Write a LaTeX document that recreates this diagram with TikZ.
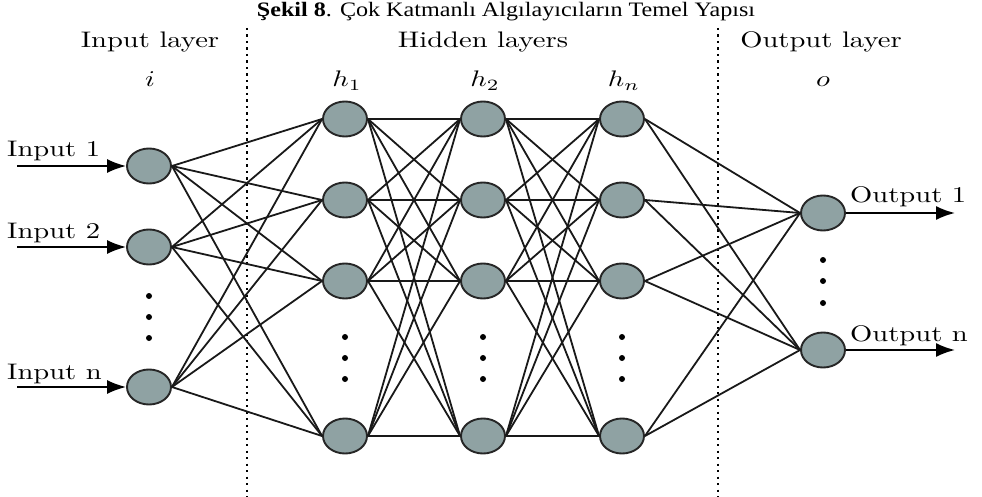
\documentclass[tikz,border=0pt]{standalone}
\usepackage{graphicx}
\usepackage{fontspec}
\newfontfamily\timesf{Liberation Serif}
\usetikzlibrary{shapes.geometric,arrows.meta}
\definecolor{nfill}{RGB}{143,162,163}
\newcommand\wide[1]{\scalebox{2.86}[2.25]{\fontsize{10}{12}\selectfont #1}}
\tikzset{
 neuron/.style={ellipse, draw=black!85, line width=1.9pt, fill=nfill, minimum width=44pt, minimum height=35pt, inner sep=0pt},
 conn/.style={line width=1.8pt, black!90},
 lbl/.style={inner sep=0pt},
 sepline/.style={line width=1.6pt, dash pattern=on 2.2pt off 4.3pt},
 arr/.style={line width=1.9pt, -{Latex[length=19pt,width=14pt]}},
 bigdot/.style={circle, fill=black, inner sep=0pt, minimum size=6pt}
}
\begin{document}
\begin{tikzpicture}[x=1pt,y=-1pt]
\useasboundingbox (0,0) rectangle (982,497);
\fill[white] (0,0) rectangle (982,497);
% title
\node[anchor=base, inner sep=0pt] (title) at (506,17) {\resizebox{498pt}{\height}{\timesf\fontsize{20.5}{24}\selectfont\textbf{Şekil 8}. Çok Katmanlı Algılayıcıların Temel Yapısı}};
% layer headings
\node[lbl, anchor=base] (tin) at (150,48) {\wide{Input layer}};
\node[lbl, anchor=base] (thid) at (483,48) {\wide{Hidden layers}};
\node[lbl, anchor=base] (tout) at (821,48) {\wide{Output layer}};
\node[lbl, anchor=base] (li) at (150,87) {\wide{$i$}};
\node[lbl, anchor=base] (lh1) at (347,87) {\wide{$h_1$}};
\node[lbl, anchor=base] (lh2) at (485,87) {\wide{$h_2$}};
\node[lbl, anchor=base] (lhn) at (624,87) {\wide{$h_n$}};
\node[lbl, anchor=base] (lo) at (823,87) {\wide{$o$}};
% separators
\coordinate (s1t) at (247,28); \coordinate (s1b) at (247,497);
\coordinate (s2t) at (718,28); \coordinate (s2b) at (718,497);
\draw[sepline] (s1t) -- (s1b);
\draw[sepline] (s2t) -- (s2b);
% neurons
\node[neuron] (i1) at (149,166) {};
\node[neuron] (i2) at (149,247) {};
\node[neuron] (i3) at (149,387) {};
\foreach \n/\x in {a/345,b/483,c/622}{
  \node[neuron] (\n1) at (\x,119) {};
  \node[neuron] (\n2) at (\x,200) {};
  \node[neuron] (\n3) at (\x,281) {};
  \node[neuron] (\n4) at (\x,436) {};
  \node[bigdot] (\n d1) at (\x,337) {};
  \node[bigdot] (\n d2) at (\x,358) {};
  \node[bigdot] (\n d3) at (\x,379) {};
}
\node[neuron] (o1) at (823,213) {};
\node[neuron] (o2) at (823,350) {};
\node[bigdot] (id1) at (149,296) {};
\node[bigdot] (id2) at (149,317) {};
\node[bigdot] (id3) at (149,338) {};
\node[bigdot] (od1) at (823,260) {};
\node[bigdot] (od2) at (823,281) {};
\node[bigdot] (od3) at (823,303) {};
% connections
\foreach \s in {i1,i2,i3}{\foreach \t in {a1,a2,a3,a4}{\draw[conn] (\s.east) -- (\t.west);}}
\foreach \s in {a1,a2,a3,a4}{\foreach \t in {b1,b2,b3,b4}{\draw[conn] (\s.east) -- (\t.west);}}
\foreach \s in {b1,b2,b3,b4}{\foreach \t in {c1,c2,c3,c4}{\draw[conn] (\s.east) -- (\t.west);}}
\foreach \s in {c1,c2,c3,c4}{\foreach \t in {o1,o2}{\draw[conn] (\s.east) -- (\t.west);}}
% inputs
\coordinate (in1) at (17,166);
\coordinate (in2) at (17,247);
\coordinate (in3) at (17,387);
\draw[arr] (in1) -- (i1.west);
\draw[arr] (in2) -- (i2.west);
\draw[arr] (in3) -- (i3.west);
\node[lbl, anchor=base west] (lin1) at (7,157) {\wide{Input 1}};
\node[lbl, anchor=base west] (lin2) at (7,238) {\wide{Input 2}};
\node[lbl, anchor=base west] (lin3) at (7,379) {\wide{Input n}};
% outputs
\coordinate (out1) at (955,213);
\coordinate (out2) at (955,350);
\draw[arr] (o1.east) -- (out1);
\draw[arr] (o2.east) -- (out2);
\node[lbl, anchor=base west] (lout1) at (850,203) {\wide{Output 1}};
\node[lbl, anchor=base west] (lout2) at (850,341) {\wide{Output n}};
\end{tikzpicture}
\end{document}
